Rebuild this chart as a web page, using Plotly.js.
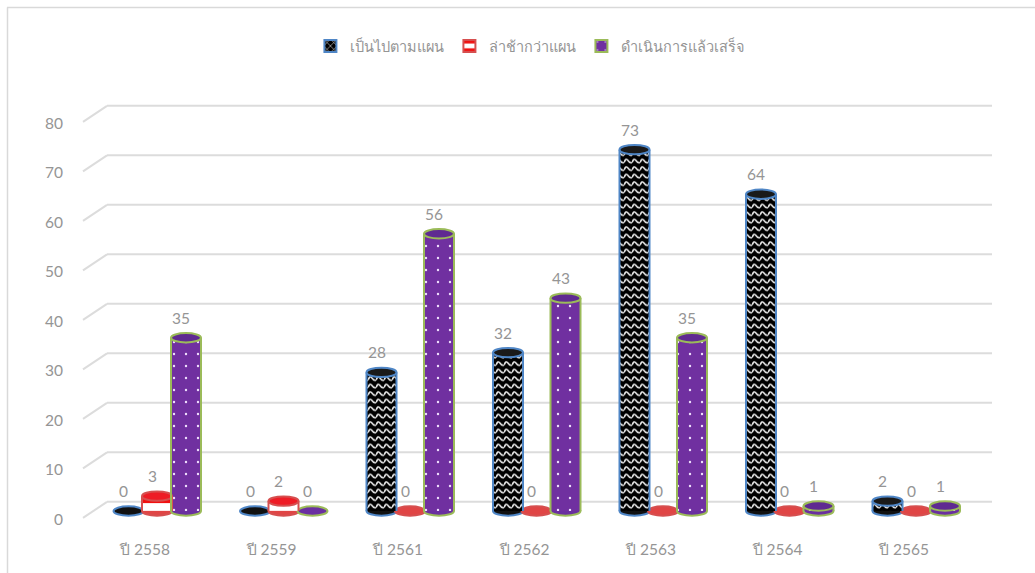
<!DOCTYPE html>
<html><head><meta charset="utf-8">
<script src="https://cdn.plot.ly/plotly-3.0.1.min.js"></script>
<style>html,body{margin:0;padding:0;background:#fff}</style></head>
<body><div id="c" style="width:1035px;height:573px"></div>
<script>
const categories = ['ปี 2558','ปี 2559','ปี 2561','ปี 2562','ปี 2563','ปี 2564','ปี 2565'];
const onPlan  = [0,0,28,32,73,64,2];
const delayed = [3,2,0,0,0,0,0];
const done    = [35,0,56,43,35,1,1];
const names   = ['เป็นไปตามแผน','ล่าช้ากว่าแผน','ดำเนินการแล้วเสร็จ'];
const yTicks  = [0,10,20,30,40,50,60,70,80];

const W=1035,H=573,B=35,plotH=H-B,base=511,pxU=4.95,xStep=126.5,x0px=157;
const xr=[-x0px/xStep,(W-x0px)/xStep];
const yr=[(base-plotH)/pxU,base/pxU];
const px2x=p=>(p-x0px)/xStep;
const font="'Lato','Noto Sans',sans-serif", txt='#959595';
const series=[onPlan,delayed,done];
const off=[-28.5/xStep,0,29/xStep], bw=30/xStep, ry=0.95;
const rim=['#4f86c6','#d64f4f','#9bbb59'], topFill=['#1a1a1a','#ee1c25','#5f2a91'], baseFill=['#111','#e04545','#6a2fa0'];
const pats=[
 {shape:'x',bgcolor:'#000',fgcolor:'#fff',size:6,solidity:0.2,fillmode:'replace'},
 {shape:'-',bgcolor:'#fff',fgcolor:'#f01010',size:13,solidity:0.4,fillmode:'replace'},
 {shape:'.',bgcolor:'#7030a0',fgcolor:'#f0e0ff',size:12,solidity:0.03,fillmode:'replace'}];

const traces=[],shapes=[],annotations=[];
series.forEach((vals,s)=>{
  traces.push({type:'bar',x:vals.map((_,i)=>i+off[s]),y:vals,width:bw,showlegend:false,hoverinfo:'skip',
    marker:{color:baseFill[s],pattern:pats[s],line:{width:0}}});
});
series.forEach((vals,s)=>{
  traces.push({type:'bar',x:[null],y:[null],name:names[s],hoverinfo:'skip',
    marker:{color:baseFill[s],pattern:pats[s],line:{width:2,color:rim[s]}}});
});
yTicks.forEach(t=>{
  const yb=t+1.85,yf=t-1.4;
  shapes.push({type:'line',layer:'below',xref:'x',yref:'y',x0:px2x(107),x1:px2x(992),y0:yb,y1:yb,line:{color:'#dcdcdc',width:2}});
  shapes.push({type:'line',layer:'below',xref:'x',yref:'y',x0:px2x(83),x1:px2x(107),y0:yf,y1:yb,line:{color:'#dcdcdc',width:2}});
});
shapes.push({type:'line',xref:'paper',yref:'paper',x0:7/W,x1:1,y0:1-7.5/plotH,y1:1-7.5/plotH,line:{color:'#d9d9d9',width:1.5}});
shapes.push({type:'line',xref:'paper',yref:'paper',x0:7.5/W,x1:7.5/W,y0:1-7.5/plotH,y1:-B/plotH,line:{color:'#d9d9d9',width:1.5}});
series.forEach((vals,s)=>{
  vals.forEach((v,i)=>{
    const c=i+off[s],l=c-bw/2,r=c+bw/2;
    shapes.push({type:'circle',layer:'below',xref:'x',yref:'y',x0:l,x1:r,y0:-ry,y1:ry,fillcolor:baseFill[s],line:{color:rim[s],width:2}});
    if(v>0){
      [l,r].forEach(e=>shapes.push({type:'line',layer:'above',xref:'x',yref:'y',x0:e,x1:e,y0:0,y1:v,line:{color:rim[s],width:2}}));
      shapes.push({type:'circle',layer:'above',xref:'x',yref:'y',x0:l,x1:r,y0:v-ry,y1:v+ry,fillcolor:topFill[s],line:{color:rim[s],width:2}});
    }
    annotations.push({x:c,y:v,xref:'x',yref:'y',text:String(v),showarrow:false,xshift:-5,yshift:20,yanchor:'middle',font:{family:font,size:15.5,color:txt}});
  });
});
const layout={width:W,height:H,margin:{l:0,r:0,t:0,b:B},paper_bgcolor:'#fff',plot_bgcolor:'rgba(0,0,0,0)',
  barmode:'overlay',showlegend:true,font:{family:font,color:txt,size:15.5},
  legend:{orientation:'h',x:0.512,xanchor:'center',y:1-46/plotH,yanchor:'middle',font:{family:font,size:14.5,color:txt},bgcolor:'rgba(0,0,0,0)'},
  xaxis:{range:xr,tickmode:'array',tickvals:categories.map((_,i)=>i-12/xStep),ticktext:categories,showgrid:false,zeroline:false,showline:false,ticks:'',tickfont:{family:font,size:15.5,color:txt}},
  yaxis:{range:yr,anchor:'free',position:63/W,tickmode:'array',tickvals:yTicks.map(t=>t-1.7),ticktext:yTicks.map(String),showgrid:false,zeroline:false,showline:false,ticks:'',tickfont:{family:font,size:15.5,color:txt}},
  shapes,annotations};
Plotly.newPlot('c',traces,layout,{displayModeBar:false,staticPlot:true}).then(gd=>{
  const NS='http://www.w3.org/2000/svg';
  const tr=gd.querySelectorAll('.barlayer .trace')[0];
  tr.querySelectorAll('.point path').forEach(p=>{
    const m=(p.style.fill||'').match(/#([^"')]+)/); if(!m) return;
    const pat=document.getElementById(m[1]); if(!pat) return;
    pat.setAttribute('width',8);pat.setAttribute('height',7.5);
    pat.setAttribute('patternUnits','userSpaceOnUse');
    while(pat.firstChild)pat.removeChild(pat.firstChild);
    const rc=document.createElementNS(NS,'rect');rc.setAttribute('width',8);rc.setAttribute('height',7.5);rc.setAttribute('fill','#000');pat.appendChild(rc);
    const w=document.createElementNS(NS,'path');w.setAttribute('d','M0,5 Q2,0 4,3 T8,5');w.setAttribute('fill','none');w.setAttribute('stroke','#e8e8e8');w.setAttribute('stroke-width','1.6');pat.appendChild(w);
  });
});
</script></body></html>
